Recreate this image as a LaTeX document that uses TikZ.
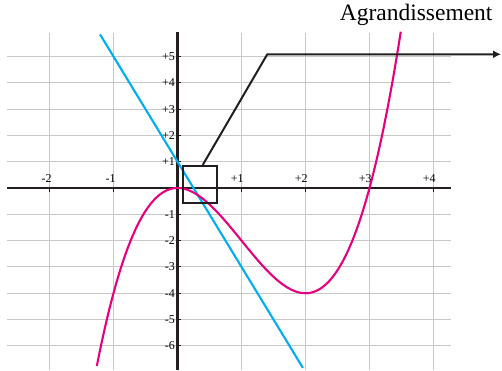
\documentclass[tikz,border=0pt]{standalone}
\usepackage{fontspec}
\setmainfont{Liberation Serif}
\definecolor{medmagenta}{RGB}{230, 0, 126}
\definecolor{medcyan}{RGB}{0, 174, 239}
\definecolor{gridgray}{RGB}{200, 200, 200}
\definecolor{axisblack}{RGB}{35, 31, 32}
\usetikzlibrary{arrows.meta, positioning, calc}
\tikzset{
	grille/.style={draw=gridgray, line width=1pt},
	axe/.style={draw=axisblack, line width=2.1pt},
	graduation/.style={draw=axisblack, line width=1pt},
	courbe/.style={draw=medmagenta, line width=2.1pt},
	droite/.style={draw=medcyan, line width=2.1pt},
	loupe/.style={rectangle, draw=axisblack, line width=2pt, minimum width=34pt, minimum height=36.7pt, inner sep=0pt},
	fleche/.style={-{Latex[length=8pt, width=8pt]}, draw=axisblack, line width=2pt},
	etiquette/.style={font=\fontsize{12}{12}\selectfont, inner sep=0pt},
	titre/.style={font=\fontsize{23.5}{24}\selectfont, inner sep=0pt},
}
\begin{document}
\begin{tikzpicture}[x=64pt, y=26.3pt]
		\useasboundingbox (-2.773,-6.920) rectangle (5.070,7.148);
		% grille
		\foreach \i in {-2,...,4} \draw[grille] (\i,-6.92) -- (\i,5.89);
		\foreach \j in {-6,...,5} \draw[grille] (-2.66,\j) -- (4.27,\j);
		% axes
		\draw[axe] (-2.66,0) -- (4.27,0);
		\draw[axe] (0,-6.92) -- (0,5.93);
		\foreach \i in {-2,-1} {
			\draw[graduation] (\i,0) -- ++(0,-4pt);
			\node[etiquette, anchor=south east] (gx\i) at ([shift={(2.3pt,5pt)}]\i,0) {\i};
		}
		\foreach \i in {1,...,4} {
			\draw[graduation] (\i,0) -- ++(0,-4pt);
			\node[etiquette, anchor=south east] (gx\i) at ([shift={(2.3pt,5pt)}]\i,0) {+\i};
		}
		\foreach \j in {-6,...,-1} {
			\draw[graduation] (0,\j) -- ++(4pt,0);
			\node[etiquette, anchor=east] (gy\j) at ([xshift=-2.5pt]0,\j) {\j};
		}
		\foreach \j in {1,...,5} {
			\draw[graduation] (0,\j) -- ++(4pt,0);
			\node[etiquette, anchor=east] (gy\j) at ([xshift=-2.5pt]0,\j) {+\j};
		}
		% courbes
		\draw[droite, domain=-1.21:1.96] plot (\x, {1-4*\x});
		\draw[courbe, domain=-1.26:3.49, samples=120, smooth] plot (\x, {\x*\x*\x-3*\x*\x});
		% agrandissement
		\node[loupe] (loupe) at (0.347,0.139) {};
		\coordinate (coude) at (1.403,5.084);
		\coordinate (fin) at (5.055,5.084);
		\node[titre, anchor=base east] (titre) at (4.925,6.35) {Agrandissement};
		\draw[fleche] ([xshift=3pt]loupe.north) -- (coude) -- (fin);
	\end{tikzpicture}
\end{document}
